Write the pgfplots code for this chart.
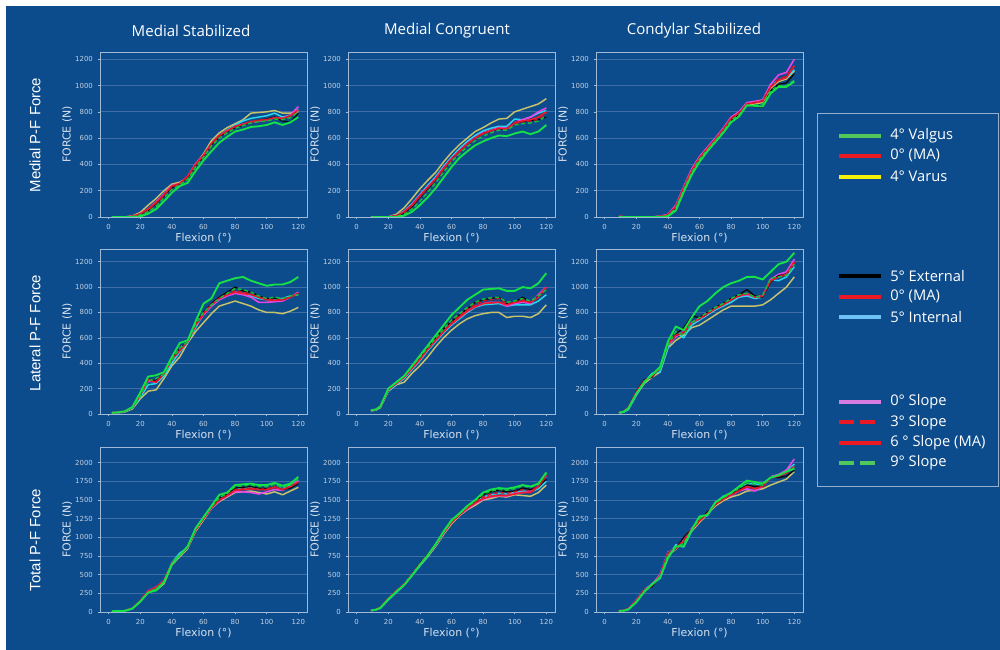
\documentclass[border=0pt]{standalone}
\usepackage{fontspec}
\usepackage{pgfplots}
\usepackage{pgfplotstable}
\pgfplotsset{compat=1.18}
\setmainfont{DejaVu Sans}
\newfontfamily\ttlfont{Open Sans}
\newfontfamily\rowfont{Liberation Sans}

\definecolor{bgblue}{RGB}{13,76,140}
\definecolor{framec}{RGB}{160,185,215}
\definecolor{gridc}{RGB}{62,110,165}
\definecolor{tickc}{RGB}{195,208,225}
\definecolor{labc}{RGB}{215,225,238}
\definecolor{valc}{RGB}{20,225,70}
\definecolor{mac}{RGB}{240,25,45}
\definecolor{varc}{RGB}{200,195,105}
\definecolor{intc}{RGB}{45,215,235}
\definecolor{s0c}{RGB}{230,70,230}
\definecolor{extc}{RGB}{10,10,10}
\definecolor{lgreen}{RGB}{80,200,90}
\definecolor{lred}{RGB}{235,25,35}
\definecolor{lyellow}{RGB}{245,240,10}
\definecolor{lblue}{RGB}{110,195,245}
\definecolor{lviolet}{RGB}{215,125,225}
\definecolor{boxc}{RGB}{150,175,205}

% columns: flexion, 4 valgus, 0 (MA), 4 varus, 5 external, 5 internal, 0 slope, 3 slope, 9 slope
% Medial P-F force
\pgfplotstableread{
x valg ma var ext int s0 s3 s9
2 0 0 0 0 0 0 0 0
5 0 0 0 0 0 0 0 0
10 0 0 0 0 0 0 0 0
15 0 5 8 3 3 5 4 2
20 5 25 35 20 18 25 22 15
25 25 60 90 50 50 60 55 40
30 60 110 140 100 100 115 105 80
35 120 170 200 160 165 175 165 145
40 185 235 250 225 230 240 230 210
45 235 255 265 250 250 255 250 245
50 260 310 300 300 300 310 305 285
55 350 400 400 390 395 405 395 380
60 430 470 480 460 460 470 465 455
65 500 560 580 550 555 560 555 540
70 565 620 640 610 620 620 615 600
75 610 655 680 650 660 655 650 640
80 650 690 710 680 700 690 685 675
85 665 705 740 700 730 705 700 695
90 685 725 790 720 750 720 720 715
95 690 735 795 735 760 730 735 725
100 700 740 800 745 770 735 740 730
105 720 755 810 760 790 755 750 745
110 700 750 790 730 760 750 745 740
115 720 770 790 720 775 775 765 755
120 760 815 800 790 820 840 810 800
}\msmed
\pgfplotstableread{
x valg ma var ext int s0 s3 s9
9 0 0 0 0 0 0 0 0
12 0 0 0 0 0 0 0 0
15 0 0 0 0 0 0 0 0
20 0 0 0 0 0 0 0 0
25 0 10 20 5 12 10 8 3
30 10 40 70 30 45 40 35 20
35 40 90 140 80 100 95 85 60
40 90 160 215 150 170 165 155 120
45 150 225 280 215 240 230 220 190
50 220 290 340 285 305 295 285 260
55 300 370 420 365 385 375 365 340
60 380 440 490 440 455 445 440 420
65 450 500 550 500 520 505 500 480
70 500 555 600 555 575 560 555 535
75 545 600 650 600 620 605 600 580
80 575 635 680 635 655 640 635 615
85 600 655 715 655 675 660 655 640
90 620 675 745 670 690 680 670 660
95 615 670 750 670 690 675 665 660
100 635 715 800 720 745 720 710 700
105 650 730 820 725 740 740 725 710
110 630 740 840 735 760 760 730 715
115 650 760 860 740 790 800 745 730
120 700 800 900 760 810 830 790 770
}\mcmed
\pgfplotstableread{
x valg ma var ext int s0 s3 s9
9 0 10 0 0 0 5 5 0
12 0 0 0 0 0 0 0 0
15 0 0 0 0 0 0 0 0
20 0 0 0 0 0 0 0 0
25 0 0 0 0 0 0 0 0
30 0 0 0 0 0 0 0 0
35 0 5 5 3 4 6 5 2
40 5 15 15 12 15 20 15 10
45 50 80 75 70 80 90 80 65
50 190 220 215 210 220 230 220 205
55 320 350 340 340 350 365 350 335
60 420 450 445 440 455 460 450 440
65 500 520 515 515 525 530 520 510
70 570 590 585 585 595 600 590 580
75 640 665 660 655 670 675 665 650
80 720 750 745 740 755 760 750 735
85 765 790 785 780 790 800 790 775
90 850 860 855 850 860 870 860 845
95 845 870 860 840 875 880 870 850
100 840 880 870 835 890 890 885 860
105 940 990 980 960 1000 1010 990 960
110 990 1040 1030 1010 1040 1080 1050 1000
115 990 1060 1050 1020 1060 1100 1070 1000
120 1030 1150 1110 1090 1120 1200 1160 1040
}\csmed
% Lateral P-F force
\pgfplotstableread{
x valg ma var ext int s0 s3 s9
2 10 10 8 10 8 10 10 10
5 12 12 10 12 10 12 12 12
10 20 20 15 20 18 20 20 20
15 55 50 40 50 45 50 50 48
20 170 150 120 150 130 150 145 140
25 295 270 180 275 230 260 265 260
30 305 250 190 260 240 250 255 280
35 330 320 280 320 300 320 320 310
40 450 430 380 440 400 430 430 430
45 560 500 450 510 490 500 505 520
50 580 570 560 575 560 570 570 570
55 730 700 650 710 680 700 700 710
60 870 790 720 800 790 780 790 800
65 910 860 790 870 850 850 860 860
70 1030 910 850 920 900 900 910 910
75 1050 940 870 960 940 930 945 950
80 1070 960 890 1000 960 950 970 990
85 1080 950 870 970 950 940 960 980
90 1050 940 850 960 930 920 945 960
95 1030 920 820 930 910 880 920 930
100 1010 900 800 910 900 880 905 910
105 1020 895 800 910 905 885 900 920
110 1020 900 790 900 910 890 900 910
115 1040 920 810 920 930 920 920 930
120 1080 950 840 950 940 960 950 940
}\mslat
\pgfplotstableread{
x valg ma var ext int s0 s3 s9
9 30 30 25 30 28 30 30 30
12 35 35 30 35 32 35 35 35
15 60 60 50 60 55 60 60 60
20 200 190 180 190 180 190 190 195
25 250 240 230 250 230 240 245 250
30 300 290 250 300 280 290 295 300
35 380 360 320 380 350 360 370 375
40 460 430 380 450 420 430 440 450
45 540 510 450 520 500 510 515 525
50 620 580 530 600 570 580 590 600
55 700 650 600 670 640 650 660 670
60 780 710 660 730 700 710 720 740
65 840 760 710 780 750 760 775 790
70 900 810 750 830 800 810 825 840
75 940 845 775 880 840 845 865 880
80 980 870 790 900 860 870 890 905
85 985 875 800 910 865 880 900 915
90 990 880 800 920 870 880 910 920
95 970 860 760 870 850 850 870 880
100 970 880 770 880 860 870 880 890
105 1000 890 770 920 860 880 900 910
110 990 880 760 880 860 870 880 890
115 1030 920 790 930 890 940 930 930
120 1110 1000 860 980 940 1000 990 980
}\mclat
\pgfplotstableread{
x valg ma var ext int s0 s3 s9
9 10 10 8 10 8 10 10 10
12 18 20 15 20 15 20 20 18
15 45 50 40 50 35 50 50 45
20 160 170 150 175 150 170 170 160
25 250 260 240 270 250 260 260 255
30 310 300 290 290 320 300 300 310
35 370 360 330 370 330 360 360 350
40 570 550 520 560 520 540 550 540
45 690 620 580 630 640 610 615 650
50 660 640 620 680 600 650 645 620
55 760 720 680 770 700 720 725 720
60 850 750 700 760 740 750 750 760
65 890 790 740 800 780 790 790 800
70 950 830 780 840 820 830 835 840
75 1000 860 820 870 850 860 865 870
80 1030 900 850 910 880 900 900 910
85 1050 930 850 940 920 930 930 940
90 1080 950 850 980 930 940 945 950
95 1080 920 850 930 910 920 925 920
100 1060 930 860 920 920 930 930 935
105 1120 1050 900 1040 1060 1060 1050 1070
110 1180 1080 950 1090 1050 1100 1080 1080
115 1200 1100 1000 1100 1080 1120 1100 1090
120 1270 1200 1080 1190 1160 1220 1190 1180
}\cslat
% Total P-F force
\pgfplotstableread{
x valg ma var ext int s0 s3 s9
2 10 10 10 10 10 10 10 10
5 12 12 12 12 12 12 12 12
10 15 15 15 15 15 15 15 15
15 45 50 45 50 45 50 50 48
20 140 150 140 150 145 150 150 145
25 260 280 270 280 275 285 280 270
30 290 330 290 330 320 335 330 310
35 400 420 380 410 400 420 420 410
40 640 650 630 650 660 650 650 650
45 760 760 740 760 790 755 760 770
50 880 870 850 870 860 870 870 870
55 1120 1100 1080 1100 1120 1100 1100 1110
60 1270 1250 1230 1260 1260 1250 1250 1260
65 1420 1400 1390 1410 1400 1390 1400 1410
70 1570 1500 1480 1520 1500 1490 1500 1530
75 1600 1560 1540 1580 1560 1550 1560 1590
80 1700 1630 1600 1660 1640 1610 1640 1680
85 1710 1640 1610 1670 1660 1610 1650 1690
90 1720 1650 1620 1680 1670 1600 1660 1700
95 1700 1640 1600 1660 1650 1580 1640 1680
100 1700 1640 1580 1650 1650 1610 1650 1680
105 1730 1670 1610 1680 1680 1640 1680 1710
110 1690 1640 1570 1640 1650 1630 1640 1670
115 1720 1680 1620 1660 1700 1680 1680 1700
120 1810 1740 1670 1720 1760 1760 1740 1790
}\mstot
\pgfplotstableread{
x valg ma var ext int s0 s3 s9
9 20 20 20 20 20 20 20 20
12 30 30 30 30 28 30 30 30
15 55 60 55 60 50 60 60 58
20 170 180 170 180 160 180 180 175
25 270 280 270 280 260 280 280 275
30 360 370 360 370 360 370 370 370
35 490 500 490 500 490 500 500 500
40 630 640 620 650 620 640 645 640
45 760 760 740 770 750 760 765 765
50 910 900 880 900 890 900 905 905
55 1080 1060 1040 1070 1050 1060 1065 1070
60 1230 1200 1180 1210 1220 1200 1205 1215
65 1320 1300 1290 1310 1300 1300 1305 1315
70 1420 1390 1370 1410 1400 1380 1400 1410
75 1500 1460 1430 1480 1470 1450 1470 1490
80 1600 1520 1500 1570 1540 1510 1540 1580
85 1640 1550 1520 1610 1570 1540 1580 1620
90 1660 1560 1550 1630 1590 1560 1600 1640
95 1650 1560 1540 1610 1580 1550 1590 1630
100 1670 1580 1570 1620 1600 1590 1610 1650
105 1700 1600 1560 1660 1620 1600 1640 1690
110 1680 1600 1550 1640 1610 1610 1620 1670
115 1720 1680 1600 1680 1650 1690 1690 1710
120 1870 1830 1700 1780 1750 1820 1820 1850
}\mctot
\pgfplotstableread{
x valg ma var ext int s0 s3 s9
9 15 15 12 15 12 15 15 15
12 18 20 18 20 18 20 20 18
15 35 40 35 40 35 45 40 38
20 130 150 140 150 130 160 150 140
25 270 290 280 300 280 300 290 285
30 370 360 350 340 380 370 360 365
35 460 480 470 480 450 500 480 470
40 720 780 760 790 730 800 780 760
45 880 850 840 850 900 850 850 870
50 880 950 960 1000 870 980 960 920
55 1100 1100 1080 1110 1080 1120 1100 1090
60 1280 1220 1200 1230 1270 1230 1220 1250
65 1300 1320 1310 1340 1290 1330 1320 1310
70 1470 1440 1420 1440 1460 1450 1440 1460
75 1540 1510 1490 1520 1550 1520 1510 1530
80 1600 1570 1540 1580 1590 1560 1570 1590
85 1680 1620 1570 1640 1640 1620 1630 1660
90 1760 1680 1620 1700 1720 1650 1680 1730
95 1740 1650 1630 1680 1720 1620 1660 1710
100 1720 1680 1650 1690 1690 1680 1680 1700
105 1800 1800 1700 1810 1810 1810 1800 1800
110 1830 1820 1740 1800 1840 1840 1820 1830
115 1880 1860 1780 1820 1890 1900 1870 1880
120 1920 1950 1880 1900 1980 2050 1960 1940
}\cstot

\pgfplotsset{
  kneepanel/.style={
    scale only axis, width=155.25pt, height=123.75pt, anchor=south west,
    xmin=-5.5, xmax=125.5, ymin=0,
    xtick={0,20,...,120},
    axis line style={framec, line width=0.7pt},
    tick style={framec, line width=0.4pt}, tick align=outside,
    major tick length=1.8pt, xtick pos=bottom, ytick pos=left,
    ymajorgrids, grid style={gridc, line width=0.55pt},
    ticklabel style={font=\fontsize{5.2}{6}\selectfont, text=tickc},
    /pgf/number format/assume math mode=true,
    /pgf/number format/1000 sep={},
    xlabel={Flexion (°)}, ylabel={FORCE (N)},
    every axis x label/.style={at={(axis description cs:0.5,-0.125)}, anchor=center,
      font=\fontsize{8.2}{10}\selectfont, text=labc},
    every axis y label/.style={at={(axis description cs:-0.158,0.5)}, rotate=90, anchor=center,
      font=\fontsize{8.2}{10}\selectfont, text=labc},
    every axis plot/.append style={no marks, line join=round},
  },
  medrow/.style={kneepanel, ymax=1255, ytick={0,200,...,1200}},
  latrow/.style={kneepanel, ymax=1300, ytick={0,200,...,1200}},
  totrow/.style={kneepanel, ymax=2210, ytick={0,250,...,2000}},
}

\newcommand{\kneecurves}[1]{%
  \addplot[varc, line width=1.1pt] table[x=x,y=var]{#1};
  \addplot[intc, line width=1.1pt] table[x=x,y=int]{#1};
  \addplot[s0c, line width=1.2pt] table[x=x,y=s0]{#1};
  \addplot[extc, line width=1.0pt] table[x=x,y=ext]{#1};
  \addplot[mac, line width=1.2pt] table[x=x,y=ma]{#1};
  \addplot[mac!85!black, line width=1.1pt, dash pattern=on 3pt off 2pt] table[x=x,y=s3]{#1};
  \addplot[valc!85!black, line width=1.1pt, dash pattern=on 3pt off 2pt] table[x=x,y=s9]{#1};
  \addplot[valc, line width=1.4pt] table[x=x,y=valg]{#1};
}

\begin{document}
\begin{tikzpicture}
\begin{scope}[x=0.75pt,y=0.75pt]
  \path[use as bounding box] (0,0) rectangle (1000,650);
  \fill[white] (0,0) rectangle (1000,650);
  \fill[bgblue] (6,0) rectangle (1000,644);
  % column titles
  \node[text=white, font=\ttlfont\fontsize{11.3}{13}\selectfont] at (191,619) {Medial Stabilized};
  \node[text=white, font=\ttlfont\fontsize{11.3}{13}\selectfont] at (447,619) {Medial Congruent};
  \node[text=white, font=\ttlfont\fontsize{11.3}{13}\selectfont] at (694,619) {Condylar Stabilized};
  % row titles
  \node[text=white, rotate=90, font=\rowfont\fontsize{11.2}{13}\selectfont] at (35,515) {Medial P-F Force};
  \node[text=white, rotate=90, font=\rowfont\fontsize{11.2}{13}\selectfont] at (35,317) {Lateral P-F Force};
  \node[text=white, rotate=90, font=\rowfont\fontsize{11.2}{13}\selectfont] at (35,110) {Total P-F Force};
  % key
  \draw[boxc, line width=0.6pt] (817,164) rectangle (998,537);
  \begin{scope}[line width=3pt]
    \draw[lgreen] (839,514.3) -- (881,514.3);
    \draw[lred] (839,494.3) -- (881,494.3);
    \draw[lyellow] (839,473.3) -- (881,473.3);
    \draw[black] (839,374.3) -- (881,374.3);
    \draw[lred] (839,353.3) -- (881,353.3);
    \draw[lblue] (839,332.7) -- (881,332.7);
    \draw[lviolet] (839,248) -- (881,248);
    \draw[lred, dash pattern=on 11pt off 5pt] (839,227.7) -- (881,227.7);
    \draw[lred] (839,207.3) -- (881,207.3);
    \draw[lgreen, dash pattern=on 11pt off 5pt] (839,187.3) -- (881,187.3);
  \end{scope}
  \begin{scope}[every node/.style={anchor=west, text=white, font=\ttlfont\fontsize{11}{13}\selectfont, inner sep=0pt}]
    \node at (890,514.3) {4° Valgus};
    \node at (890,494.3) {0° (MA)};
    \node at (890,473.3) {4° Varus};
    \node at (890,374.3) {5° External};
    \node at (890,353.3) {0° (MA)};
    \node at (890,332.7) {5° Internal};
    \node at (890,248) {0° Slope};
    \node at (890,227.7) {3° Slope};
    \node at (890,207.3) {6 ° Slope (MA)};
    \node at (890,187.3) {9° Slope};
  \end{scope}
\end{scope}

% medial row
\begin{axis}[medrow, at={(75pt,324.75pt)}] \kneecurves{\msmed} \end{axis}
\begin{axis}[medrow, at={(261pt,324.75pt)}] \kneecurves{\mcmed} \end{axis}
\begin{axis}[medrow, at={(447pt,324.75pt)}] \kneecurves{\csmed} \end{axis}
% lateral row
\begin{axis}[latrow, at={(75pt,177pt)}] \kneecurves{\mslat} \end{axis}
\begin{axis}[latrow, at={(261pt,177pt)}] \kneecurves{\mclat} \end{axis}
\begin{axis}[latrow, at={(447pt,177pt)}] \kneecurves{\cslat} \end{axis}
% total row
\begin{axis}[totrow, at={(75pt,28.5pt)}] \kneecurves{\mstot} \end{axis}
\begin{axis}[totrow, at={(261pt,28.5pt)}] \kneecurves{\mctot} \end{axis}
\begin{axis}[totrow, at={(447pt,28.5pt)}] \kneecurves{\cstot} \end{axis}
\end{tikzpicture}
\end{document}
